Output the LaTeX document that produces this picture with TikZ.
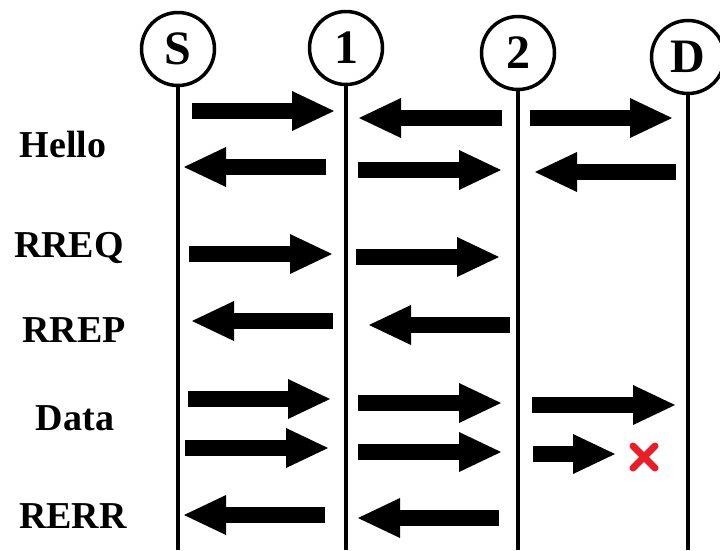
\documentclass[tikz,border=0pt]{standalone}
\usepackage{fontspec}
\setmainfont{Liberation Serif}
\usetikzlibrary{arrows.meta}
\definecolor{lostred}{RGB}{232,30,40}
\newcommand{\sendmsg}[3]{%
\draw[msg] (#1,#3) -- (#2,#3);
}
\newcommand{\lostmark}[2]{%
\draw[lost] (#1,#2) +(-11,-11) -- +(11,11) +(-11,11) -- +(11,-11);
}

\begin{document}
\begin{tikzpicture}[x=1pt,y=-1pt,
  host/.style={draw,circle,line width=3.5pt,minimum size=73pt,inner sep=0pt,
    font=\fontsize{48}{48}\selectfont\bfseries},
  lifeline/.style={line width=4.5pt},
  msg/.style={line width=16pt,-{Triangle[length=42pt,width=40pt,line width=0pt]}},
  lost/.style={lostred,line width=7pt,line cap=round},
  kind/.style={anchor=base,font=\fontsize{38}{38}\selectfont\bfseries}]
\useasboundingbox (0,0) rectangle (720,550);

% hosts and their lifelines
\node[host] (S) at (178,49) {S};
\node[host] (n1) at (346,48) {1};
\node[host] (n2) at (518,53) {2};
\node[host] (D) at (688,57) {D};

\foreach \h in {S,n1,n2,D}
  \draw[lifeline] (\h.south) -- (\h |- 0,550);

% message kinds
\node[kind] (hello) at (63,157) {Hello};
\node[kind] (rreq) at (69,257) {RREQ};
\node[kind] (rrep) at (74,342) {RREP};
\node[kind] (data) at (75,430) {Data};
\node[kind] (rerr) at (73,528) {RERR};

% hello
\sendmsg{192}{334}{111}
\sendmsg{502}{359}{118}
\sendmsg{530}{672}{118}

\sendmsg{326}{184}{167}
\sendmsg{358}{501}{170}
\sendmsg{676}{535}{172}

% rreq
\sendmsg{189}{332}{254}
\sendmsg{356}{499}{257}

% rrep
\sendmsg{333}{192}{321}
\sendmsg{510}{369}{325}

% data
\sendmsg{188}{330}{399}
\sendmsg{358}{501}{403}
\sendmsg{532}{675}{405}

\sendmsg{185}{328}{448}
\sendmsg{358}{501}{452}
\sendmsg{533}{615}{454}
\lostmark{644}{457}

% rerr
\sendmsg{325}{184}{515}
\sendmsg{499}{358}{518}

\end{tikzpicture}
\end{document}
